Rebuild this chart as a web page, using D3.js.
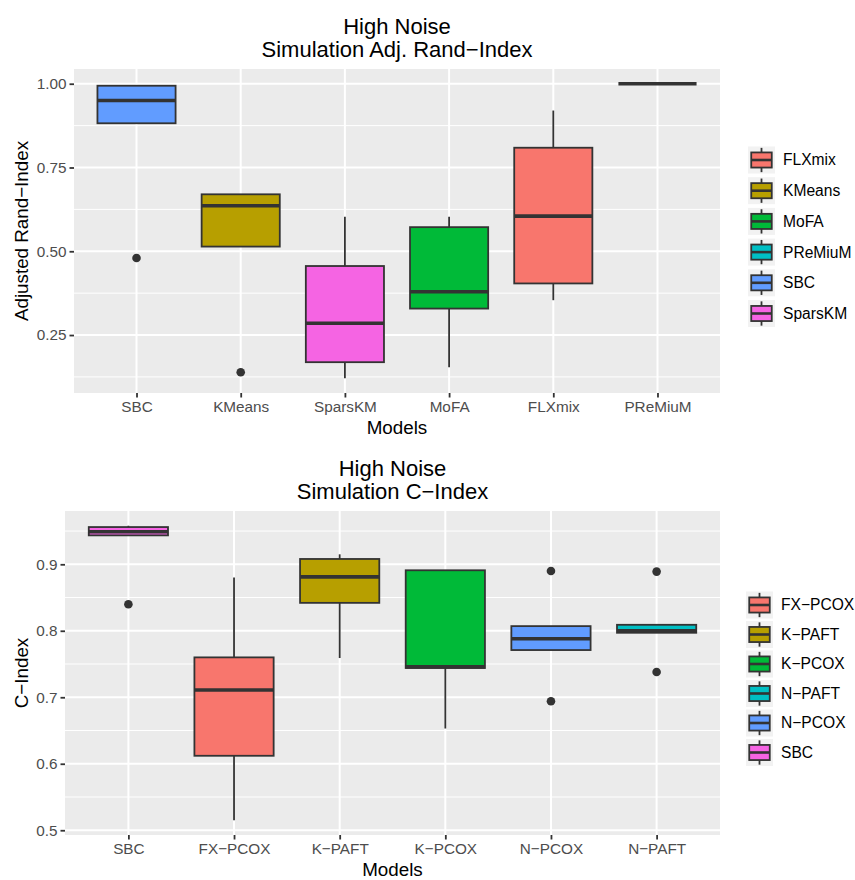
<!DOCTYPE html>
<html>
<head>
<meta charset="utf-8">
<script src="https://cdn.jsdelivr.net/npm/d3@7"></script>
<style>
  html, body { margin: 0; padding: 0; background: #ffffff; }
  svg { display: block; }
  text { font-family: "Liberation Sans", Arial, Helvetica, sans-serif; }
</style>
</head>
<body>
<svg id="chart" width="855" height="880"></svg>
<script>
// ---- Panel 1: Adjusted Rand-Index per model ----
const randModels      = ["SBC", "KMeans", "SparsKM", "MoFA", "FLXmix", "PReMiuM"];
const randWhiskerLow  = [0.882, 0.514, 0.121, 0.154, 0.354, 1.000];
const randQ1          = [0.882, 0.514, 0.169, 0.329, 0.404, 1.000];
const randMedian      = [0.950, 0.636, 0.285, 0.379, 0.605, 1.000];
const randQ3          = [0.994, 0.670, 0.456, 0.572, 0.809, 1.000];
const randWhiskerHigh = [0.994, 0.670, 0.603, 0.603, 0.920, 1.000];
const randOutliers    = [[0.480], [0.139], [], [], [], []];
const randTicks       = [0.25, 0.50, 0.75, 1.00];
const randLegend      = ["FLXmix", "KMeans", "MoFA", "PReMiuM", "SBC", "SparsKM"];

// ---- Panel 2: C-Index per model ----
const cModels      = ["SBC", "FX\u2212PCOX", "K\u2212PAFT", "K\u2212PCOX", "N\u2212PCOX", "N\u2212PAFT"];
const cWhiskerLow  = [0.9435, 0.515, 0.759, 0.653, 0.771, 0.797];
const cQ1          = [0.9435, 0.612, 0.842, 0.744, 0.771, 0.797];
const cMedian      = [0.949, 0.711, 0.881, 0.746, 0.788, 0.800];
const cQ3          = [0.956, 0.760, 0.908, 0.891, 0.807, 0.809];
const cWhiskerHigh = [0.958, 0.880, 0.915, 0.891, 0.807, 0.809];
const cOutliers    = [[0.840], [], [], [], [0.890, 0.694], [0.889, 0.738]];
const cTicks       = [0.5, 0.6, 0.7, 0.8, 0.9];
const cLegend      = ["FX\u2212PCOX", "K\u2212PAFT", "K\u2212PCOX", "N\u2212PAFT", "N\u2212PCOX", "SBC"];

// default discrete hue palette, assigned in legend (alphabetical) order
const huePalette = ["#F8766D", "#B79F00", "#00BA38", "#00BFC4", "#619CFF", "#F564E3"];

const svg = d3.select("#chart");
const INK = "#333333";

function drawPanel(cfg) {
  const g = svg.append("g");
  const { left, right, top, bottom } = cfg.box;

  const rows = cfg.models.map((m, i) => ({
    model: m,
    lo: cfg.whiskerLow[i], q1: cfg.q1[i], med: cfg.median[i],
    q3: cfg.q3[i], hi: cfg.whiskerHigh[i], out: cfg.outliers[i]
  }));

  // continuous range with 5% expansion on both ends
  const allVals = rows.flatMap(r => [r.lo, r.hi, ...r.out]);
  const vMin = d3.min(allVals), vMax = d3.max(allVals);
  const pad = (vMax - vMin) * 0.05;
  const y = d3.scaleLinear().domain([vMin - pad, vMax + pad]).range([bottom, top]);
  const x = d3.scalePoint().domain(cfg.models).range([left, right]).padding(0.6);
  const bw = x.step() * 0.75;
  const color = d3.scaleOrdinal().domain(cfg.legend).range(huePalette);

  // panel background
  g.append("rect").attr("x", left).attr("y", top)
    .attr("width", right - left).attr("height", bottom - top).attr("fill", "#EBEBEB");

  // minor gridlines halfway between major ticks
  const step = cfg.ticks[1] - cfg.ticks[0];
  const minor = [];
  for (let k = -1; k < cfg.ticks.length; k++) {
    const v = cfg.ticks[0] + step * (k + 0.5);
    if (v > y.domain()[0] && v < y.domain()[1]) minor.push(v);
  }
  g.selectAll(".minor").data(minor).join("line")
    .attr("x1", left).attr("x2", right)
    .attr("y1", d => y(d)).attr("y2", d => y(d))
    .attr("stroke", "#ffffff").attr("stroke-width", 1);

  g.selectAll(".majorY").data(cfg.ticks).join("line")
    .attr("x1", left).attr("x2", right)
    .attr("y1", d => y(d)).attr("y2", d => y(d))
    .attr("stroke", "#ffffff").attr("stroke-width", 2);

  g.selectAll(".majorX").data(cfg.models).join("line")
    .attr("x1", d => x(d)).attr("x2", d => x(d))
    .attr("y1", top).attr("y2", bottom)
    .attr("stroke", "#ffffff").attr("stroke-width", 2);

  // boxplots
  const bx = g.selectAll(".box").data(rows).join("g");
  bx.append("line")
    .attr("x1", d => x(d.model)).attr("x2", d => x(d.model))
    .attr("y1", d => y(d.hi)).attr("y2", d => y(d.q3))
    .attr("stroke", INK).attr("stroke-width", 1.8);
  bx.append("line")
    .attr("x1", d => x(d.model)).attr("x2", d => x(d.model))
    .attr("y1", d => y(d.q1)).attr("y2", d => y(d.lo))
    .attr("stroke", INK).attr("stroke-width", 1.8);
  bx.append("rect")
    .attr("x", d => x(d.model) - bw / 2).attr("width", bw)
    .attr("y", d => y(d.q3)).attr("height", d => Math.max(0, y(d.q1) - y(d.q3)))
    .attr("fill", d => color(d.model)).attr("stroke", INK).attr("stroke-width", 1.8);
  bx.append("line")
    .attr("x1", d => x(d.model) - bw / 2).attr("x2", d => x(d.model) + bw / 2)
    .attr("y1", d => y(d.med)).attr("y2", d => y(d.med))
    .attr("stroke", INK).attr("stroke-width", 3.6);
  bx.selectAll("circle").data(d => d.out.map(v => ({ model: d.model, v }))).join("circle")
    .attr("cx", d => x(d.model)).attr("cy", d => y(d.v)).attr("r", 4.3)
    .attr("fill", INK);

  // axes
  const yAxis = d3.axisLeft(y).tickValues(cfg.ticks).tickFormat(d3.format(cfg.fmt))
    .tickSize(4.5).tickPadding(3);
  const ya = g.append("g").attr("transform", `translate(${left},0)`).call(yAxis);
  const xAxis = d3.axisBottom(x).tickSize(4.5).tickPadding(4);
  const xa = g.append("g").attr("transform", `translate(0,${bottom})`).call(xAxis);
  [ya, xa].forEach(a => {
    a.select(".domain").remove();
    a.selectAll(".tick line").attr("stroke", INK).attr("stroke-width", 1.8);
    a.selectAll(".tick text").attr("fill", "#4D4D4D").style("font-size", "15.3px");
  });

  // titles
  const cx = (left + right) / 2;
  g.append("text").attr("x", cx).attr("y", top - cfg.titleGap - 23.5)
    .attr("text-anchor", "middle").style("font-size", "22px").attr("fill", "#000")
    .text(cfg.title[0]);
  g.append("text").attr("x", cx).attr("y", top - cfg.titleGap)
    .attr("text-anchor", "middle").style("font-size", "22px").attr("fill", "#000")
    .text(cfg.title[1]);
  g.append("text").attr("x", cx).attr("y", bottom + 41)
    .attr("text-anchor", "middle").style("font-size", "18.8px").attr("fill", "#000")
    .text("Models");
  g.append("text")
    .attr("transform", `translate(28,${(top + bottom) / 2}) rotate(-90)`)
    .attr("text-anchor", "middle").style("font-size", "18.8px").attr("fill", "#000")
    .text(cfg.yTitle);

  // legend
  const ks = 27, gap = cfg.legendGap;
  const lg = g.append("g").attr("transform", `translate(${cfg.legendX},${cfg.legendY})`);
  const items = lg.selectAll(".item").data(cfg.legend).join("g")
    .attr("transform", (d, i) => `translate(0,${i * (ks + gap)})`);
  items.append("rect").attr("width", ks).attr("height", ks).attr("fill", "#F2F2F2");
  items.append("line").attr("x1", ks / 2).attr("x2", ks / 2)
    .attr("y1", ks * 0.05).attr("y2", ks * 0.95).attr("stroke", INK).attr("stroke-width", 1.8);
  items.append("rect").attr("x", ks * 0.12).attr("width", ks * 0.76)
    .attr("y", ks * 0.22).attr("height", ks * 0.56)
    .attr("fill", d => color(d)).attr("stroke", INK).attr("stroke-width", 1.8);
  items.append("line").attr("x1", ks * 0.12).attr("x2", ks * 0.88)
    .attr("y1", ks / 2).attr("y2", ks / 2).attr("stroke", INK).attr("stroke-width", 2.6);
  items.append("text").attr("x", ks + 8).attr("y", ks / 2).attr("dy", "0.35em")
    .style("font-size", "15.6px").attr("fill", "#000").text(d => d);
}

drawPanel({
  box: { left: 74, right: 720, top: 69, bottom: 393 },
  models: randModels, whiskerLow: randWhiskerLow, q1: randQ1, median: randMedian,
  q3: randQ3, whiskerHigh: randWhiskerHigh, outliers: randOutliers,
  ticks: randTicks, fmt: ".2f", legend: randLegend,
  title: ["High Noise", "Simulation Adj. Rand\u2212Index"], titleGap: 12,
  yTitle: "Adjusted Rand\u2212Index",
  legendX: 748, legendY: 146.5, legendGap: 3.7
});

drawPanel({
  box: { left: 65, right: 720, top: 511, bottom: 835 },
  models: cModels, whiskerLow: cWhiskerLow, q1: cQ1, median: cMedian,
  q3: cQ3, whiskerHigh: cWhiskerHigh, outliers: cOutliers,
  ticks: cTicks, fmt: ".1f", legend: cLegend,
  title: ["High Noise", "Simulation C\u2212Index"], titleGap: 12,
  yTitle: "C\u2212Index",
  legendX: 746, legendY: 591.5, legendGap: 2.5
});
</script>
</body>
</html>
